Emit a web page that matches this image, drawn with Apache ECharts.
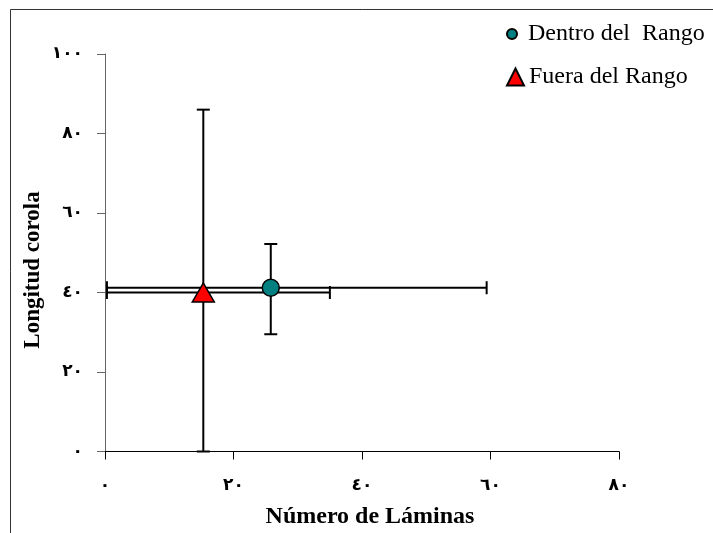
<!DOCTYPE html>
<html>
<head>
<meta charset="utf-8">
<script src="https://cdn.jsdelivr.net/npm/echarts@6/dist/echarts.min.js"></script>
<style>html,body{margin:0;padding:0;background:#fff}#c{width:713px;height:533px}</style>
</head>
<body>
<div id="c"></div>
<script>
// Data
const seriesNames = ['Dentro del  Rango', 'Fuera del Rango'];
const xValues = [25.8, 15.3];   // Número de Láminas (mean)
const yValues = [41.2, 40.0];   // Longitud corola (mean)
const xLow  = [0.3, 0.3];
const xHigh = [59.4, 35.0];
const yLow  = [29.5, 0];
const yHigh = [52.2, 86.0];
const xTickLabels = ['٠', '٢٠', '٤٠', '٦٠', '٨٠'];
const yTickLabels = ['٠', '٢٠', '٤٠', '٦٠', '٨٠', '١٠٠'];
const xTitle = 'Número de Láminas';
const yTitle = 'Longitud corola';

const chart = echarts.init(document.getElementById('c'), null, {renderer: 'canvas'});
const serif = '"Liberation Serif", "Times New Roman", serif';
const labelFont = '"DejaVu Sans", sans-serif';

const errData = xValues.map((x, i) => [x, yValues[i], xLow[i], xHigh[i], yLow[i], yHigh[i]]);

function renderErr(params, api) {
  const x = api.value(0), y = api.value(1);
  const pL = api.coord([api.value(2), y]);
  const pR = api.coord([api.value(3), y]);
  const pB = api.coord([x, api.value(4)]);
  const pT = api.coord([x, api.value(5)]);
  const cap = 6.5;
  const st = {stroke: '#000', lineWidth: 2};
  const line = (x1, y1, x2, y2) => ({type: 'line', shape: {x1, y1, x2, y2}, style: st});
  return {
    type: 'group',
    children: [
      line(pL[0], pL[1], pR[0], pR[1]),
      line(pL[0], pL[1] - cap, pL[0], pL[1] + cap),
      line(pR[0], pR[1] - cap, pR[0], pR[1] + cap),
      line(pB[0], pB[1], pT[0], pT[1]),
      line(pB[0] - cap, pB[1], pB[0] + cap, pB[1]),
      line(pT[0] - cap, pT[1], pT[0] + cap, pT[1])
    ]
  };
}

const option = {
  animation: false,
  backgroundColor: '#fff',
  grid: {left: 105, right: 94, top: 54, bottom: 81.5, containLabel: false},
  xAxis: {
    type: 'value', min: 0, max: 80, interval: 20,
    axisLine: {show: true, lineStyle: {color: '#000', width: 1}},
    axisTick: {show: true, length: 8, lineStyle: {color: '#000'}},
    splitLine: {show: false},
    axisLabel: {
      margin: 26, fontSize: 17, fontWeight: 'bold', fontFamily: labelFont, color: '#000',
      formatter: (v) => xTickLabels[Math.round(v / 20)]
    }
  },
  yAxis: {
    type: 'value', min: 0, max: 100, interval: 20,
    axisLine: {show: true, lineStyle: {color: '#666', width: 1}},
    axisTick: {show: true, length: 8, lineStyle: {color: '#666'}},
    splitLine: {show: false},
    axisLabel: {
      margin: 22, fontSize: 17, fontWeight: 'bold', fontFamily: labelFont, color: '#000',
      padding: [0, 0, 12, 0],
      formatter: (v) => yTickLabels[Math.round(v / 20)]
    }
  },
  legend: [
    {
      data: [{name: seriesNames[0], icon: 'circle'}],
      left: 501, top: 17, itemWidth: 22, itemHeight: 10,
      textStyle: {fontFamily: serif, fontSize: 24, color: '#000'}
    },
    {
      data: [{name: seriesNames[1], icon: 'triangle'}],
      left: 501, top: 60, itemWidth: 17, itemHeight: 17,
      textStyle: {fontFamily: serif, fontSize: 24, color: '#000'}
    }
  ],
  graphic: [
    {type: 'rect', shape: {x: 10.5, y: 9.5, width: 720, height: 540},
     style: {fill: 'none', stroke: '#333', lineWidth: 1}, silent: true, z: -1},
    {type: 'text', x: 370, y: 517, style: {text: xTitle, font: 'bold 24px ' + serif, fill: '#000', align: 'center', verticalAlign: 'middle'}},
    {type: 'text', x: 33, y: 270, rotation: Math.PI / 2, style: {text: yTitle, font: 'bold 23px ' + serif, fill: '#000', align: 'center', verticalAlign: 'middle'}}
  ],
  series: [
    {
      type: 'custom', name: 'err', renderItem: renderErr, data: errData, z: 1,
      encode: {x: 0, y: 1}, clip: false
    },
    {
      type: 'scatter', name: seriesNames[0], z: 3,
      data: [[xValues[0], yValues[0]]],
      symbol: 'circle', symbolSize: 17,
      itemStyle: {color: '#008080', borderColor: '#000', borderWidth: 1.5, opacity: 1}
    },
    {
      type: 'scatter', name: seriesNames[1], z: 3,
      data: [[xValues[1], yValues[1]]],
      symbol: 'triangle', symbolSize: [22, 19],
      itemStyle: {color: '#ff0000', borderColor: '#000', borderWidth: 1.5, opacity: 1}
    }
  ]
};
chart.setOption(option);
</script>
</body>
</html>
